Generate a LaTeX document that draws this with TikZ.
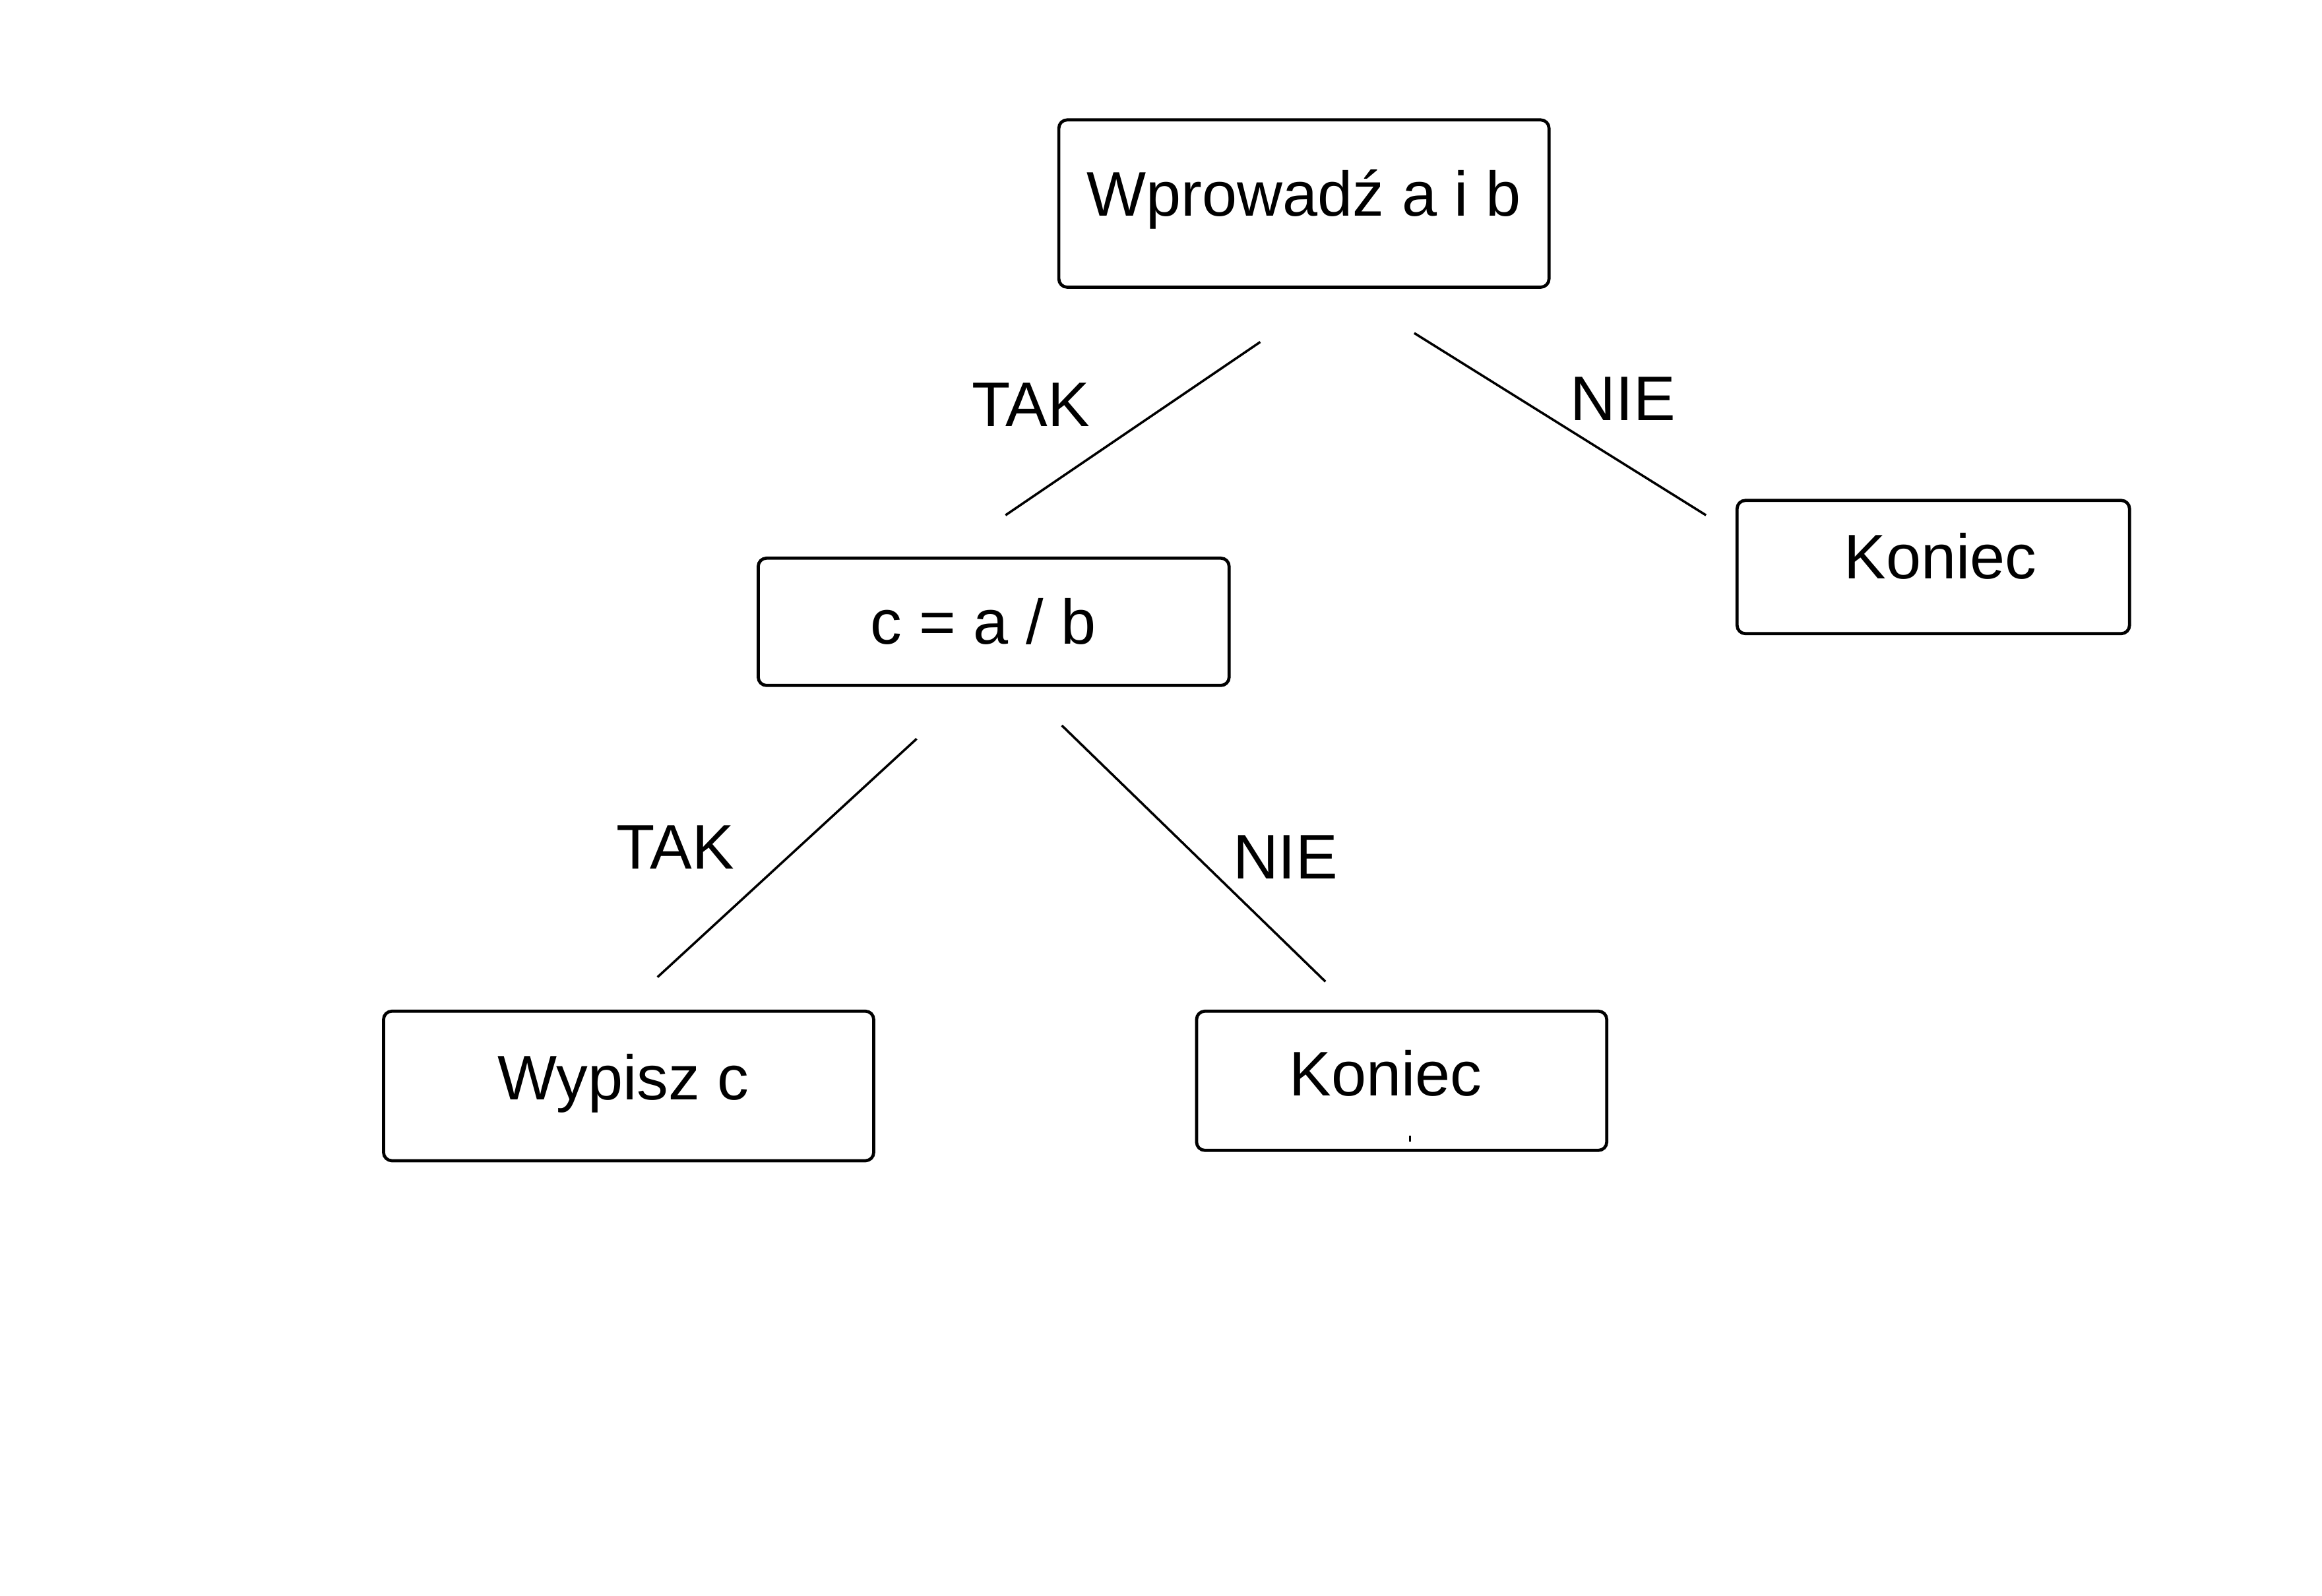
\documentclass[tikz,border=0pt]{standalone}
\usepackage{fontspec}
\setmainfont{Liberation Sans}
\usetikzlibrary{positioning}
\tikzset
{
    every node/.style = {font=\fontsize{12.1}{14}\selectfont, text height=8.6pt, text depth=0pt},
    stepbox/.style    = {draw=black, line width=0.6pt, rounded corners=1.6pt, inner sep=0pt, align=center},
    branch/.style     = {line width=0.45pt},
    answer/.style     = {inner sep=0pt}
}

\begin{document}
\begin{tikzpicture}
\useasboundingbox (0,0) rectangle (15.68,-10.78);

\node (in)    [stepbox, minimum width=3.31cm, minimum height=1.13cm, text depth=3.7pt]  at (8.805,-1.375)  {Wprowadź a i b};
\node (div)   [stepbox, minimum width=3.18cm, minimum height=0.86cm]                    at (6.71,-4.20)    {c = a / b\hspace*{4pt}};
\node (end1)  [stepbox, minimum width=2.65cm, minimum height=0.90cm, text depth=4pt]    at (13.055,-3.83)  {\hspace*{2.8pt}Koniec};
\node (out)   [stepbox, minimum width=3.31cm, minimum height=1.01cm, text depth=3.4pt]  at (4.245,-7.335)  {Wypisz c\hspace*{2pt}};
\node (end2)  [stepbox, minimum width=2.77cm, minimum height=0.94cm, text depth=2.8pt]  at (9.465,-7.30)   {Koniec\hspace*{6.2pt}};
\fill (9.515,-7.67) rectangle ++(0.012,-0.04);

\coordinate (a1) at (8.51,-2.31);
\coordinate (a2) at (6.79,-3.48);
\coordinate (b1) at (9.55,-2.25);
\coordinate (b2) at (11.52,-3.48);
\coordinate (c1) at (6.19,-4.99);
\coordinate (c2) at (4.44,-6.60);
\coordinate (d1) at (7.17,-4.90);
\coordinate (d2) at (8.95,-6.63);

\node (tak1)  [answer]  at (6.96,-2.73)   {TAK};
\node (nie1)  [answer]  at (10.96,-2.69)  {NIE};
\node (tak2)  [answer]  at (4.56,-5.72)   {TAK};
\node (nie2)  [answer]  at (8.68,-5.785)  {NIE};

\path[branch]
(a1) edge (a2)
(b1) edge (b2)
(c1) edge (c2)
(d1) edge (d2);

\end{tikzpicture}
\end{document}
